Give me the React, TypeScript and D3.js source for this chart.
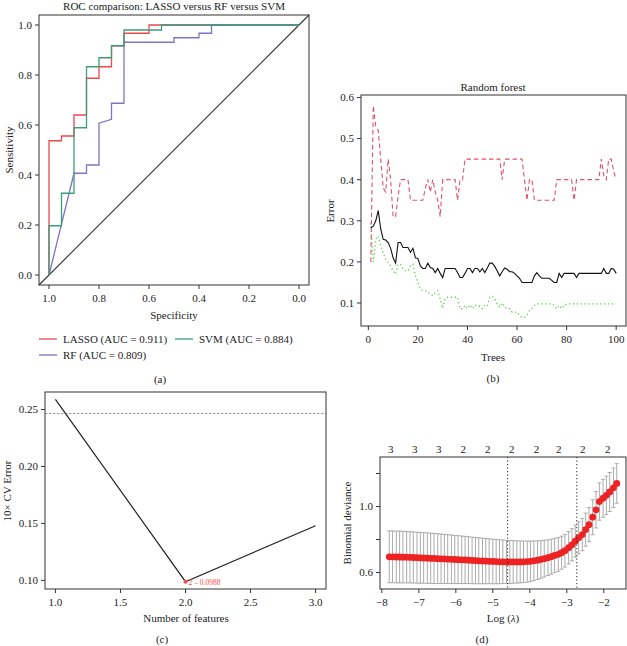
import * as d3 from "d3";

const FONT = "'Liberation Serif', 'Times New Roman', serif";
const INK = "#333";

// (a) ROC curves
const rocTicks = [1.0, 0.8, 0.6, 0.4, 0.2, 0.0];
const rocTickLabels = ["1.0", "0.8", "0.6", "0.4", "0.2", "0.0"];
const lassoSpec = [1, 1, 0.95, 0.95, 0.9, 0.9, 0.85, 0.85, 0.8, 0.8, 0.75, 0.75, 0.7, 0.7, 0.6, 0.6, 0];
const lassoSens = [0, 0.537, 0.537, 0.556, 0.556, 0.64, 0.64, 0.787, 0.787, 0.833, 0.833, 0.917, 0.917, 0.967, 0.967, 1, 1];
const svmSpec = [1, 1, 0.95, 0.95, 0.9, 0.9, 0.85, 0.85, 0.8, 0.8, 0.75, 0.75, 0.7, 0.7, 0.55, 0.55, 0];
const svmSens = [0, 0.197, 0.197, 0.327, 0.327, 0.589, 0.589, 0.833, 0.833, 0.869, 0.869, 0.917, 0.917, 0.98, 0.98, 1, 1];
const rfSpec = [1, 0.9, 0.85, 0.85, 0.8, 0.8, 0.75, 0.75, 0.7, 0.7, 0.5, 0.5, 0.4, 0.4, 0.35, 0.35, 0];
const rfSens = [0, 0.407, 0.407, 0.44, 0.44, 0.607, 0.623, 0.687, 0.687, 0.931, 0.931, 0.949, 0.949, 0.967, 0.967, 1, 1];
const rocNames = ["LASSO (AUC = 0.911)", "SVM (AUC = 0.884)", "RF (AUC = 0.809)"];
const rocColors = ["#f0474c", "#3a9e7a", "#7f74c4"];

// (b) random forest error rates by number of trees
const oobErr = [
  0.283, 0.287, 0.3, 0.325, 0.28, 0.255, 0.253, 0.247, 0.233, 0.21,
  0.197, 0.247, 0.247, 0.235, 0.235, 0.235, 0.223, 0.233, 0.21, 0.208,
  0.19, 0.184, 0.184, 0.197, 0.186, 0.184, 0.174, 0.184, 0.172, 0.162,
  0.184, 0.184, 0.184, 0.184, 0.184, 0.174, 0.162, 0.162, 0.172, 0.184,
  0.184, 0.174, 0.184, 0.184, 0.176, 0.184, 0.174, 0.185, 0.197, 0.197,
  0.189, 0.178, 0.166, 0.176, 0.185, 0.182, 0.176, 0.176, 0.172, 0.166,
  0.16, 0.15, 0.15, 0.15, 0.15, 0.15, 0.166, 0.174, 0.166, 0.16,
  0.16, 0.16, 0.16, 0.155, 0.15, 0.15, 0.172, 0.162, 0.172, 0.172,
  0.172, 0.172, 0.172, 0.162, 0.172, 0.172, 0.172, 0.172, 0.172, 0.172,
  0.172, 0.172, 0.172, 0.172, 0.184, 0.172, 0.172, 0.184, 0.182, 0.172,
];
const class1Err = [
  0.2, 0.58, 0.53, 0.52, 0.45, 0.38, 0.37, 0.45, 0.4, 0.31,
  0.31, 0.36, 0.4, 0.4, 0.4, 0.4, 0.35, 0.35, 0.35, 0.35,
  0.35, 0.35, 0.38, 0.4, 0.37, 0.4, 0.37, 0.35, 0.31, 0.4,
  0.4, 0.4, 0.4, 0.4, 0.4, 0.35, 0.4, 0.4, 0.45, 0.45,
  0.45, 0.45, 0.45, 0.45, 0.45, 0.45, 0.45, 0.45, 0.45, 0.45,
  0.45, 0.45, 0.45, 0.4, 0.45, 0.45, 0.45, 0.45, 0.45, 0.45,
  0.45, 0.45, 0.4, 0.35, 0.4, 0.4, 0.35, 0.35, 0.35, 0.35,
  0.35, 0.35, 0.35, 0.35, 0.35, 0.4, 0.4, 0.4, 0.4, 0.4,
  0.4, 0.4, 0.35, 0.4, 0.4, 0.4, 0.4, 0.4, 0.4, 0.4,
  0.4, 0.4, 0.4, 0.45, 0.41, 0.4, 0.45, 0.45, 0.42, 0.4,
];
const class2Err = [
  0.295, 0.2, 0.255, 0.263, 0.238, 0.222, 0.206, 0.198, 0.19, 0.178,
  0.17, 0.194, 0.194, 0.182, 0.178, 0.178, 0.19, 0.194, 0.166, 0.15,
  0.134, 0.13, 0.13, 0.126, 0.122, 0.118, 0.126, 0.13, 0.11, 0.087,
  0.111, 0.114, 0.114, 0.114, 0.114, 0.114, 0.086, 0.086, 0.094, 0.086,
  0.095, 0.086, 0.095, 0.092, 0.092, 0.086, 0.094, 0.092, 0.114, 0.116,
  0.11, 0.098, 0.09, 0.1, 0.09, 0.086, 0.086, 0.078, 0.078, 0.078,
  0.07, 0.065, 0.065, 0.07, 0.081, 0.086, 0.094, 0.098, 0.098, 0.098,
  0.098, 0.098, 0.098, 0.098, 0.094, 0.086, 0.094, 0.086, 0.094, 0.098,
  0.098, 0.098, 0.098, 0.098, 0.098, 0.098, 0.098, 0.098, 0.098, 0.098,
  0.098, 0.098, 0.098, 0.098, 0.098, 0.098, 0.098, 0.098, 0.098, 0.098,
];
const treeTicks = [0, 20, 40, 60, 80, 100];
const errTicks = [0.1, 0.2, 0.3, 0.4, 0.5, 0.6];

// (c) CV error by number of features
const nFeatures = [1, 2, 3];
const cvError = [0.259, 0.0988, 0.148];
const cvRef = 0.2465;
const featTicks = [1.0, 1.5, 2.0, 2.5, 3.0];
const featTickLabels = ["1.0", "1.5", "2.0", "2.5", "3.0"];
const cvTicks = [0.1, 0.15, 0.2, 0.25];
const cvTickLabels = ["0.10", "0.15", "0.20", "0.25"];

// (d) LASSO cross-validation
const logLambda = [
  -7.8, -7.71, -7.61, -7.52, -7.43, -7.33, -7.24, -7.15, -7.05, -6.96,
  -6.87, -6.77, -6.68, -6.59, -6.49, -6.4, -6.31, -6.22, -6.12, -6.03,
  -5.94, -5.84, -5.75, -5.66, -5.56, -5.47, -5.38, -5.28, -5.19, -5.1,
  -5.0, -4.91, -4.82, -4.73, -4.63, -4.54, -4.45, -4.35, -4.26, -4.17,
  -4.07, -3.98, -3.89, -3.79, -3.7, -3.61, -3.51, -3.42, -3.33, -3.23,
  -3.14, -3.05, -2.95, -2.86, -2.77, -2.68, -2.58, -2.49, -2.4, -2.3,
  -2.21, -2.12, -2.02, -1.93, -1.84, -1.74, -1.65,
];
const cvm = [
  0.695, 0.695, 0.694, 0.694, 0.693, 0.693, 0.692, 0.691, 0.69, 0.689,
  0.688, 0.687, 0.686, 0.685, 0.684, 0.683, 0.682, 0.681, 0.68, 0.679,
  0.678, 0.677, 0.676, 0.675, 0.673, 0.672, 0.671, 0.67, 0.669, 0.668,
  0.667, 0.666, 0.665, 0.665, 0.664, 0.664, 0.664, 0.664, 0.664, 0.665,
  0.666, 0.668, 0.671, 0.675, 0.679, 0.684, 0.69, 0.696, 0.703, 0.71,
  0.72, 0.732, 0.75, 0.768, 0.79, 0.81, 0.83, 0.86, 0.89, 0.935,
  0.98, 1.03, 1.05, 1.068, 1.088, 1.113, 1.14,
];
const cvsd = [
  0.157, 0.157, 0.157, 0.157, 0.156, 0.156, 0.155, 0.155, 0.154, 0.154,
  0.153, 0.153, 0.152, 0.152, 0.151, 0.15, 0.149, 0.148, 0.147, 0.146,
  0.145, 0.144, 0.143, 0.142, 0.141, 0.14, 0.139, 0.138, 0.137, 0.136,
  0.135, 0.134, 0.133, 0.132, 0.131, 0.13, 0.129, 0.128, 0.127, 0.126,
  0.124, 0.122, 0.12, 0.117, 0.114, 0.111, 0.108, 0.106, 0.104, 0.102,
  0.1, 0.099, 0.098, 0.097, 0.097, 0.097, 0.098, 0.1, 0.103, 0.106,
  0.11, 0.113, 0.115, 0.116, 0.118, 0.12, 0.12,
];
const lambdaMin = -4.6;
const lambda1se = -2.73;
const nzeroAt = [-7.76, -7.11, -6.46, -5.8, -5.14, -4.49, -3.82, -3.22, -2.57, -1.89];
const nzeroLabels = ["3", "3", "3", "2", "2", "2", "2", "2", "2", "2"];
const lamTicks = [-8, -7, -6, -5, -4, -3, -2];
const devTicks = [0.6, 0.8, 1.0, 1.2];
const devTickLabels = ["0.6", "", "1.0", ""];

const txt = { fontFamily: FONT, fontSize: 11, fill: "#222" } as const;

function LeftAxis({ scale, x, ticks, labels }: any) {
  return (
    <g>
      {ticks.map((t: number, i: number) => (
        <g key={i}>
          <line x1={x - 4} x2={x} y1={scale(t)} y2={scale(t)} stroke={INK} />
          {labels[i] ? (
            <text {...txt} x={x - 7} y={scale(t)} dy="0.35em" textAnchor="end">{labels[i]}</text>
          ) : null}
        </g>
      ))}
    </g>
  );
}

function BottomAxis({ scale, y, ticks, labels }: any) {
  return (
    <g>
      {ticks.map((t: number, i: number) => (
        <g key={i}>
          <line x1={scale(t)} x2={scale(t)} y1={y} y2={y + 4} stroke={INK} />
          <text {...txt} x={scale(t)} y={y + 13} dy="0.35em" textAnchor="middle">{labels[i]}</text>
        </g>
      ))}
    </g>
  );
}

function Box({ x, y }: any) {
  const [x0, x1] = x.range();
  const [y0, y1] = y.range();
  return <rect x={x0} y={y1} width={x1 - x0} height={y0 - y1} fill="none" stroke={INK} strokeWidth={1} />;
}

function PanelA() {
  const x = d3.scaleLinear().domain([1.04, -0.04]).range([39, 309]);
  const y = d3.scaleLinear().domain([-0.04, 1.04]).range([285, 15]);
  const line = d3.line<[number, number]>().x((d) => x(d[0])).y((d) => y(d[1]));
  const curves = [
    { spec: lassoSpec, sens: lassoSens, color: rocColors[0] },
    { spec: rfSpec, sens: rfSens, color: rocColors[2] },
    { spec: svmSpec, sens: svmSens, color: rocColors[1] },
  ];
  const legend = [
    { name: rocNames[0], color: rocColors[0], lx: 39, ly: 339 },
    { name: rocNames[1], color: rocColors[1], lx: 175, ly: 339 },
    { name: rocNames[2], color: rocColors[2], lx: 39, ly: 355 },
  ];
  return (
    <g>
      <text {...txt} x={174} y={6} dy="0.35em" textAnchor="middle">ROC comparison: LASSO versus RF versus SVM</text>
      <line x1={x(1.04)} y1={y(-0.04)} x2={x(-0.04)} y2={y(1.04)} stroke={INK} strokeWidth={1.1} />
      {curves.map((c, i) => (
        <path key={i} d={line(c.spec.map((s, j) => [s, c.sens[j]]))!} fill="none" stroke={c.color} strokeWidth={1.3} />
      ))}
      <Box x={x} y={y} />
      <LeftAxis scale={y} x={39} ticks={rocTicks} labels={rocTickLabels} />
      <BottomAxis scale={x} y={285} ticks={rocTicks} labels={rocTickLabels} />
      <text {...txt} transform="translate(9,150) rotate(-90)" dy="0.35em" textAnchor="middle">Sensitivity</text>
      <text {...txt} x={174} y={315} dy="0.35em" textAnchor="middle">Specificity</text>
      {legend.map((l, i) => (
        <g key={i}>
          <line x1={l.lx} x2={l.lx + 18} y1={l.ly} y2={l.ly} stroke={l.color} strokeWidth={1.3} />
          <text {...txt} x={l.lx + 24} y={l.ly} dy="0.35em">{l.name}</text>
        </g>
      ))}
      <text {...txt} x={160} y={379} dy="0.35em" textAnchor="middle">(a)</text>
    </g>
  );
}

function PanelB() {
  const x = d3.scaleLinear().domain([-2.96, 103.96]).range([361, 626]);
  const y = d3.scaleLinear().domain([0.044, 0.606]).range([326, 95]);
  const line = d3.line<number>().x((_, i) => x(i + 1)).y((d) => y(d));
  return (
    <g>
      <text {...txt} x={493} y={87} dy="0.35em" textAnchor="middle">Random forest</text>
      <path d={line(class2Err)!} fill="none" stroke="#61d04f" strokeWidth={1.3} strokeDasharray="1.3,2.6" />
      <path d={line(class1Err)!} fill="none" stroke="#df536b" strokeWidth={1.1} strokeDasharray="4.5,3" />
      <path d={line(oobErr)!} fill="none" stroke="#111" strokeWidth={1.1} />
      <Box x={x} y={y} />
      <LeftAxis scale={y} x={361} ticks={errTicks} labels={errTicks.map((t) => t.toFixed(1))} />
      <BottomAxis scale={x} y={326} ticks={treeTicks} labels={treeTicks.map(String)} />
      <text {...txt} transform="translate(330,211) rotate(-90)" dy="0.35em" textAnchor="middle">Error</text>
      <text {...txt} x={493} y={357} dy="0.35em" textAnchor="middle">Trees</text>
      <text {...txt} x={493} y={378} dy="0.35em" textAnchor="middle">(b)</text>
    </g>
  );
}

function PanelC() {
  const x = d3.scaleLinear().domain([0.92, 3.08]).range([45, 326]);
  const y = d3.scaleLinear().domain([0.0924, 0.2654]).range([589, 392]);
  const line = d3.line<number>().x((_, i) => x(nFeatures[i])).y((d) => y(d));
  const best = d3.minIndex(cvError);
  return (
    <g>
      <line x1={45} x2={326} y1={y(cvRef)} y2={y(cvRef)} stroke="#999" strokeWidth={1} strokeDasharray="2.5,1.5" />
      <path d={line(cvError)!} fill="none" stroke="#222" strokeWidth={1.2} />
      <circle cx={x(nFeatures[best])} cy={y(cvError[best])} r={2} fill="#ff4b4b" />
      <text x={x(nFeatures[best]) + 3} y={y(cvError[best]) + 1} dy="0.35em" fontFamily={FONT} fontSize={7.5} fill="#ff4b4b">
        {`${nFeatures[best]} – ${cvError[best]}`}
      </text>
      <Box x={x} y={y} />
      <LeftAxis scale={y} x={45} ticks={cvTicks} labels={cvTickLabels} />
      <BottomAxis scale={x} y={589} ticks={featTicks} labels={featTickLabels} />
      <text {...txt} transform="translate(7,491) rotate(-90)" dy="0.35em" textAnchor="middle">10× CV Error</text>
      <text {...txt} x={186} y={618} dy="0.35em" textAnchor="middle">Number of features</text>
      <text {...txt} x={162} y={639} dy="0.35em" textAnchor="middle">(c)</text>
    </g>
  );
}

function PanelD() {
  const x = d3.scaleLinear().domain([-8.05, -1.4]).range([380, 626]);
  const y = d3.scaleLinear().domain([0.5, 1.3]).range([589, 457]);
  return (
    <g>
      {logLambda.map((l, i) => {
        const hi = y(cvm[i] + cvsd[i]);
        const lo = y(cvm[i] - cvsd[i]);
        return (
          <g key={i} stroke="#aaa" strokeWidth={1}>
            <line x1={x(l)} x2={x(l)} y1={hi} y2={lo} />
            <line x1={x(l) - 2} x2={x(l) + 2} y1={hi} y2={hi} />
            <line x1={x(l) - 2} x2={x(l) + 2} y1={lo} y2={lo} />
          </g>
        );
      })}
      {logLambda.map((l, i) => (
        <circle key={i} cx={x(l)} cy={y(cvm[i])} r={3.4} fill="#ee2222" />
      ))}
      {[lambdaMin, lambda1se].map((l, i) => (
        <line key={i} x1={x(l)} x2={x(l)} y1={457} y2={589} stroke="#222" strokeWidth={1} strokeDasharray="1.2,2.3" />
      ))}
      <Box x={x} y={y} />
      <LeftAxis scale={y} x={380} ticks={devTicks} labels={devTickLabels} />
      <BottomAxis scale={x} y={589} ticks={lamTicks} labels={lamTicks.map((t) => `−${Math.abs(t)}`)} />
      {nzeroAt.map((l, i) => (
        <text key={i} {...txt} x={x(l)} y={449} dy="0.35em" textAnchor="middle">{nzeroLabels[i]}</text>
      ))}
      <text {...txt} transform="translate(347,523) rotate(-90)" dy="0.35em" textAnchor="middle">Binomial deviance</text>
      <text {...txt} x={503} y={618} dy="0.35em" textAnchor="middle">
        Log (<tspan fontStyle="italic">λ</tspan>)
      </text>
      <text {...txt} x={482} y={639} dy="0.35em" textAnchor="middle">(d)</text>
    </g>
  );
}

export default function App() {
  return (
    <svg width={627} height={646} style={{ position: "absolute", left: 0, top: 0, background: "#fff" }}>
      <rect width={627} height={646} fill="#fff" />
      <PanelA />
      <PanelB />
      <PanelC />
      <PanelD />
    </svg>
  );
}
